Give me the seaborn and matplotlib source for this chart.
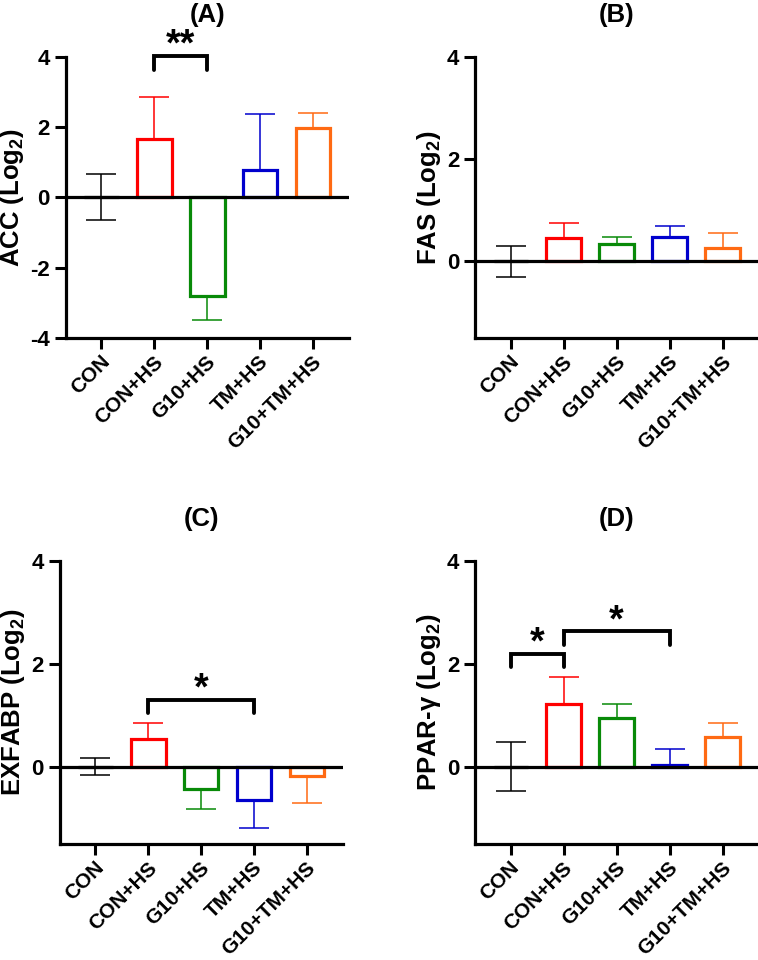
import numpy as np
import pandas as pd
import matplotlib
matplotlib.use('Agg')
import matplotlib.pyplot as plt
import matplotlib.transforms as mtransforms
import seaborn as sns

groups = ['CON', 'CON+HS', 'G10+HS', 'TM+HS', 'G10+TM+HS']
colors = ['#000000', '#ff0000', '#088a08', '#0000cd', '#ff6a13']

# means and SD (log2)
acc_mean = [0.0, 1.65, -2.8, 0.77, 1.97]
acc_err = [0.65, 1.2, 0.68, 1.6, 0.43]
fas_mean = [0.0, 0.46, 0.33, 0.48, 0.26]
fas_err = [0.3, 0.29, 0.15, 0.21, 0.3]
exf_mean = [0.0, 0.53, -0.43, -0.64, -0.19]
exf_err = [0.17, 0.32, 0.40, 0.55, 0.51]
ppar_mean = [0.0, 1.22, 0.94, 0.04, 0.58]
ppar_err = [0.48, 0.52, 0.28, 0.31, 0.26]

panels = [
    ('(A)', 'ACC (Log$_\\mathbf{2}$)', acc_mean, acc_err, (-4, 4), [-4, -2, 0, 2, 4],
     [(1, 2, 4.03, 3.63, '**')]),
    ('(B)', 'FAS (Log$_\\mathbf{2}$)', fas_mean, fas_err, (-1.5, 4), [0, 2, 4], []),
    ('(C)', 'EXFABP (Log$_\\mathbf{2}$)', exf_mean, exf_err, (-1.5, 4), [0, 2, 4],
     [(1, 3, 1.30, 1.04, '*')]),
    ('(D)', 'PPAR-γ (Log$_\\mathbf{2}$)', ppar_mean, ppar_err, (-1.5, 4), [0, 2, 4],
     [(0, 1, 2.19, 1.93, '*'), (1, 3, 2.63, 2.37, '*')]),
]

# axes boxes in figure fractions [left, bottom, width, height]
boxes = [
    [0.087, 0.648, 0.373, 0.293],
    [0.627, 0.648, 0.373, 0.293],
    [0.079, 0.121, 0.373, 0.295],
    [0.627, 0.121, 0.373, 0.295],
]

sns.set_style('ticks', {'text.color': 'black', 'axes.labelcolor': 'black',
                        'xtick.color': 'black', 'ytick.color': 'black',
                        'axes.edgecolor': 'black'})
plt.rcParams['font.family'] = ['Liberation Sans', 'DejaVu Sans']
plt.rcParams['font.weight'] = 'bold'
plt.rcParams['mathtext.fontset'] = 'custom'
plt.rcParams['mathtext.rm'] = 'Liberation Sans'
plt.rcParams['mathtext.bf'] = 'Liberation Sans:bold'

fig = plt.figure(figsize=(7.58, 9.6), dpi=100)

for (title, ylab, mean, err, ylim, yticks, sig), box in zip(panels, boxes):
    ax = fig.add_axes(box)
    df = pd.DataFrame({'group': groups, 'value': mean})
    sns.barplot(data=df, x='group', y='value', hue='group', palette=colors,
                fill=False, linewidth=2.3, width=0.65, errorbar=None,
                legend=False, ax=ax, zorder=2)

    for i, (m, e) in enumerate(zip(mean, err)):
        if m > 0:
            yerr = [[0], [e]]
        elif m < 0:
            yerr = [[e], [0]]
        else:
            yerr = [[e], [e]]
        ax.errorbar(i, m, yerr=yerr, fmt='none', ecolor=colors[i],
                    elinewidth=1.1, capsize=11, capthick=1.1, zorder=1)

    ax.axhline(0, color='black', lw=2.3, zorder=3)

    for x0, x1, top, leg, star in sig:
        ax.plot([x0, x0, x1, x1], [leg, top, top, leg], color='black',
                lw=2.8, clip_on=False, solid_joinstyle='miter')
        ax.text((x0 + x1) / 2, top, star, ha='center', va='baseline',
                fontsize=27, fontweight='bold', color='black')

    ax.set_ylim(ylim)
    ax.set_xlim(-0.67, 4.67)
    ax.set_yticks(yticks)
    ax.set_yticklabels([str(t) for t in yticks])
    ax.set_xticks(range(len(groups)))
    ax.set_xticklabels(groups, rotation=45, ha='right', va='center',
                       rotation_mode='anchor')
    ax.tick_params(axis='y', labelsize=16, width=2.2, length=8, color='black')
    ax.tick_params(axis='x', labelsize=15, width=2.2, length=8, color='black', pad=6)
    offset = mtransforms.ScaledTranslation(4 / 72, -1 / 72, fig.dpi_scale_trans)
    for lab in ax.get_xticklabels():
        lab.set_fontweight('bold')
        lab.set_transform(lab.get_transform() + offset)
    for lab in ax.get_yticklabels():
        lab.set_fontweight('bold')
    ax.set_xlabel('')
    ax.set_ylabel(ylab, fontsize=18.5, fontweight='bold', labelpad=3)
    ax.set_title(title, fontsize=18.5, fontweight='bold', pad=25)
    sns.despine(ax=ax)
    ax.spines['left'].set_linewidth(2.3)
    ax.spines['bottom'].set_linewidth(2.3)

fig.savefig('out.png', dpi=100)
